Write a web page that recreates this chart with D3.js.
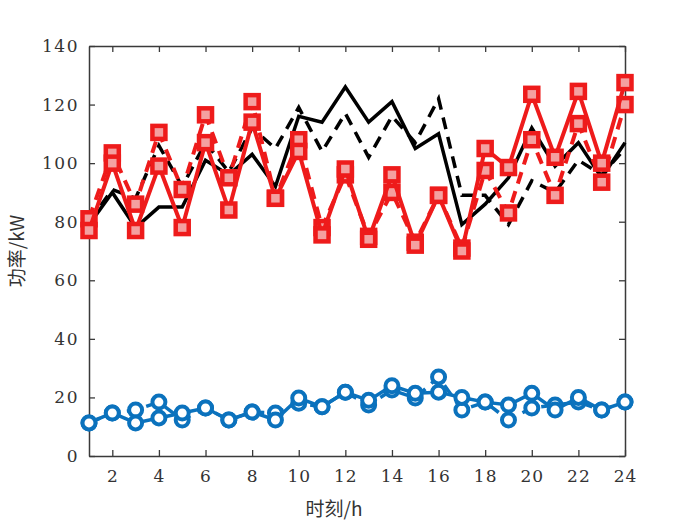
<!DOCTYPE html>
<html>
<head>
<meta charset="utf-8">
<script src="https://cdn.jsdelivr.net/npm/d3@7"></script>
<style>
  body { margin: 0; background: #fff; }
</style>
</head>
<body>
<div id="chart-area"></div>
<script>
// hours 1..24
var hours = d3.range(1, 25);
var xTicks = [2, 4, 6, 8, 10, 12, 14, 16, 18, 20, 22, 24];
var yTicks = [0, 20, 40, 60, 80, 100, 120, 140];

var blackSolid = [79, 90, 78, 85, 85, 101, 96, 103, 92, 116, 114, 126, 114, 121, 105, 110, 79, 86, 95, 112, 99, 107, 95, 107];
var blackDashed = [80, 91, 88, 106, 92, 107, 97, 112, 105, 119, 104, 117, 102, 116, 107, 122, 89, 89, 79, 94, 90, 101, 96, 105];
var redSolid = [77, 100, 77, 99, 78, 107, 84, 114, 88, 104, 75.5, 98, 74, 96, 72, 89, 70, 105, 98.5, 123.5, 102, 124.5, 100, 127.5];
var redDashed = [81, 103.5, 86, 110.5, 91, 116.5, 95, 121, 88, 108, 78, 96, 75, 90, 73, 89, 71, 97.5, 83, 108, 89, 113.5, 93.5, 120];
var blueSolid = [11.3, 14.7, 11.3, 13, 14.7, 16.4, 12.3, 15, 12.3, 19.8, 16.8, 21.8, 19, 24, 21.4, 21.8, 20, 18.4, 17.4, 21.4, 15.7, 20, 15.7, 18.4];
var blueDashed = [11.3, 14.7, 15.7, 18.4, 12.3, 16.4, 12.3, 15, 14.7, 18, 16.8, 21.8, 17.4, 22.5, 19.8, 27, 15.7, 18.4, 12.3, 16.4, 17.4, 18.4, 15.7, 18.4];

var margin = { top: 46, right: 67, bottom: 71, left: 89 };
var W = 692, H = 527;
var width = W - margin.left - margin.right;
var height = H - margin.top - margin.bottom;

var svg = d3.select("#chart-area")
    .append("svg")
    .attr("width", W)
    .attr("height", H);

var g = svg.append("g")
    .attr("transform", `translate(${margin.left}, ${margin.top})`);

var x = d3.scaleLinear().domain([1, 24]).range([0, width]);
var y = d3.scaleLinear().domain([0, 140]).range([height, 0]);

var axisColor = "#3a3a3a";
var tickFont = "'DejaVu Serif', 'Liberation Serif', serif";

// box + inward ticks on all sides
function styleAxis(sel) {
    sel.select(".domain").attr("stroke", axisColor).attr("stroke-width", 1.5);
    sel.selectAll(".tick line").attr("stroke", axisColor).attr("stroke-width", 1.3);
}

var xAxis = g.append("g")
    .attr("transform", `translate(0, ${height})`)
    .call(d3.axisBottom(x).tickValues(xTicks).tickSize(-6).tickSizeOuter(0).tickPadding(14));
styleAxis(xAxis);
xAxis.selectAll("text")
    .attr("font-family", tickFont)
    .attr("font-size", "17px")
    .attr("letter-spacing", "1px")
    .attr("fill", "#333");

var xTop = g.append("g")
    .call(d3.axisTop(x).tickValues(xTicks).tickSize(-6).tickSizeOuter(0).tickFormat(""));
styleAxis(xTop);

var yAxis = g.append("g")
    .call(d3.axisLeft(y).tickValues(yTicks).tickSize(-6).tickSizeOuter(0).tickPadding(10));
styleAxis(yAxis);
yAxis.selectAll("text")
    .attr("font-family", tickFont)
    .attr("font-size", "17px")
    .attr("letter-spacing", "1.5px")
    .attr("fill", "#333");

var yRight = g.append("g")
    .attr("transform", `translate(${width}, 0)`)
    .call(d3.axisRight(y).tickValues(yTicks).tickSize(-6).tickSizeOuter(0).tickFormat(""));
styleAxis(yRight);

// axis titles
g.append("text")
    .attr("x", 334 - margin.left)
    .attr("y", height + 60)
    .attr("text-anchor", "middle")
    .attr("font-family", "'Noto Sans CJK SC', sans-serif")
    .attr("font-size", "19px")
    .attr("fill", "#333")
    .text("时刻/h");

g.append("text")
    .attr("transform", "rotate(-90)")
    .attr("x", -(height / 2))
    .attr("y", 24 - margin.left)
    .attr("text-anchor", "middle")
    .attr("font-family", "'Noto Sans CJK SC', sans-serif")
    .attr("font-size", "19px")
    .attr("fill", "#333")
    .text("功率/kW");

var line = d3.line()
    .x((d, i) => x(hours[i]))
    .y(d => y(d));

function drawLine(values, color, dashed, w) {
    g.append("path")
        .datum(values)
        .attr("fill", "none")
        .attr("stroke", color)
        .attr("stroke-width", w)
        .attr("stroke-dasharray", dashed ? "12,8" : null)
        .attr("stroke-linejoin", "miter")
        .attr("d", line);
}

function drawSquares(values, color) {
    g.append("g").selectAll("rect")
        .data(values)
        .enter()
        .append("rect")
        .attr("x", (d, i) => x(hours[i]) - 6.5)
        .attr("y", d => y(d) - 6.5)
        .attr("width", 13)
        .attr("height", 13)
        .attr("fill", "#f4a0a0")
        .attr("stroke", color)
        .attr("stroke-width", 4.5);
}

function drawCircles(values, color) {
    g.append("g").selectAll("circle")
        .data(values)
        .enter()
        .append("circle")
        .attr("cx", (d, i) => x(hours[i]))
        .attr("cy", d => y(d))
        .attr("r", 6.5)
        .attr("fill", "#fff")
        .attr("stroke", color)
        .attr("stroke-width", 4);
}

var red = "#ee1b1b";
var blue = "#0b72bd";

drawLine(blackSolid, "#000", false, 3.5);
drawLine(blackDashed, "#000", true, 3.5);

drawLine(redDashed, red, true, 4);
drawSquares(redDashed, red);
drawLine(redSolid, red, false, 4);
drawSquares(redSolid, red);

drawLine(blueDashed, blue, true, 3.5);
drawCircles(blueDashed, blue);
drawLine(blueSolid, blue, false, 3.5);
drawCircles(blueSolid, blue);
</script>
</body>
</html>
